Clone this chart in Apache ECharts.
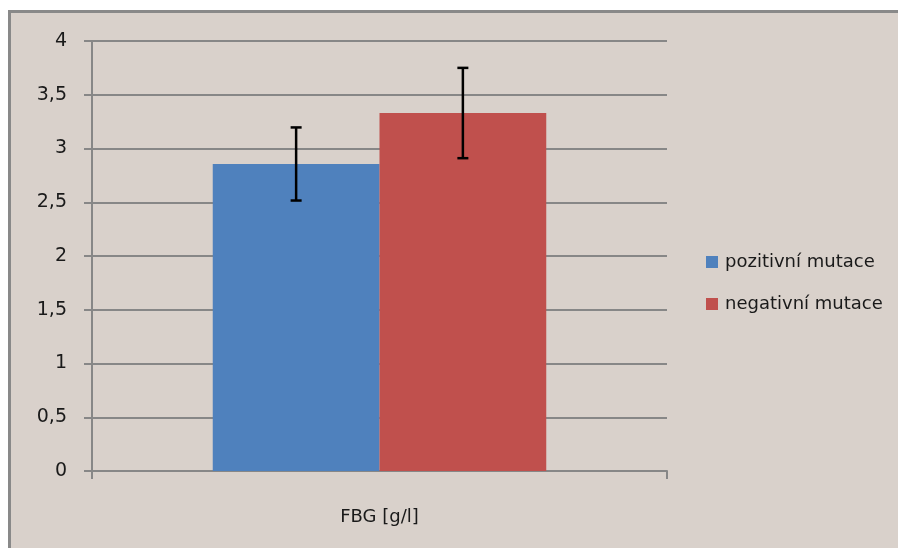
<!DOCTYPE html>
<html>
<head>
<meta charset="utf-8">
<script src="https://cdn.jsdelivr.net/npm/echarts@6/dist/echarts.min.js"></script>
<style>
html,body{margin:0;padding:0;background:#ffffff;}
#chart{width:898px;height:548px;}
</style>
</head>
<body>
<div id="chart"></div>
<script>
// Data
var categories = ['FBG [g/l]'];
var seriesNames = ['pozitivní mutace', 'negativní mutace'];
var positiveValues = [2.856];
var negativeValues = [3.33];
var positiveErrors = [0.34];
var negativeErrors = [0.42];
var yTicks = [0, 0.5, 1, 1.5, 2, 2.5, 3, 3.5, 4];

var colors = ['#4f81bd', '#c0504d'];
var axisGray = '#878787';
var textColor = '#1a1a1a';
var fontFam = 'DejaVu Sans';
var catGap = 0.42;

var chart = echarts.init(document.getElementById('chart'), null, {renderer: 'canvas'});

function errorSeries(values, errors, sign) {
  return {
    type: 'custom',
    silent: true,
    z: 10,
    data: values.map(function (v, i) { return [i, v - errors[i], v + errors[i]]; }),
    renderItem: function (params, api) {
      var idx = api.value(0);
      var lo = api.coord([idx, api.value(1)]);
      var hi = api.coord([idx, api.value(2)]);
      var catW = api.size([1, 0])[0];
      var barW = catW * (1 - catGap) / 2;
      var x = lo[0] + sign * barW / 2;
      var cap = 5.5;
      var style = {stroke: '#000', lineWidth: 2.5};
      return {
        type: 'group',
        children: [
          {type: 'line', shape: {x1: x, y1: hi[1], x2: x, y2: lo[1]}, style: style},
          {type: 'line', shape: {x1: x - cap, y1: hi[1], x2: x + cap, y2: hi[1]}, style: style},
          {type: 'line', shape: {x1: x - cap, y1: lo[1], x2: x + cap, y2: lo[1]}, style: style}
        ]
      };
    }
  };
}

var option = {
  animation: false,
  backgroundColor: '#ffffff',
  graphic: [{
    type: 'rect',
    z: -100,
    silent: true,
    shape: {x: 9.5, y: 11.5, width: 900, height: 545},
    style: {fill: '#d9d1cb', stroke: '#898989', lineWidth: 3}
  }],
  color: colors,
  grid: {left: 92, top: 41, right: 231, bottom: 77, containLabel: false},
  legend: {
    orient: 'vertical',
    left: 701,
    top: 247,
    itemWidth: 12,
    itemHeight: 12,
    itemGap: 22,
    icon: 'rect',
    data: seriesNames,
    textStyle: {fontFamily: fontFam, fontSize: 18, color: textColor, lineHeight: 20, padding: [0, 0, 0, 2]}
  },
  xAxis: {
    type: 'category',
    data: categories,
    axisLine: {lineStyle: {color: axisGray, width: 2}},
    axisTick: {show: true, length: 8, lineStyle: {color: axisGray, width: 2}},
    axisLabel: {fontFamily: fontFam, fontSize: 18, color: textColor, margin: 37}
  },
  yAxis: {
    type: 'value',
    min: yTicks[0],
    max: yTicks[yTicks.length - 1],
    interval: yTicks[1] - yTicks[0],
    axisLine: {show: true, lineStyle: {color: axisGray, width: 2}},
    axisTick: {show: true, length: 8, lineStyle: {color: axisGray, width: 2}},
    splitLine: {show: true, lineStyle: {color: axisGray, width: 2}},
    axisLabel: {
      fontFamily: fontFam, fontSize: 19, color: textColor, margin: 25,
      formatter: function (v) { return String(v).replace('.', ','); }
    }
  },
  series: [
    {name: seriesNames[0], type: 'bar', data: positiveValues, barGap: '0%', barCategoryGap: (catGap * 100) + '%', itemStyle: {color: colors[0]}},
    {name: seriesNames[1], type: 'bar', data: negativeValues, barGap: '0%', barCategoryGap: (catGap * 100) + '%', itemStyle: {color: colors[1]}},
    errorSeries(positiveValues, positiveErrors, -1),
    errorSeries(negativeValues, negativeErrors, 1)
  ]
};
chart.setOption(option);
</script>
</body>
</html>
